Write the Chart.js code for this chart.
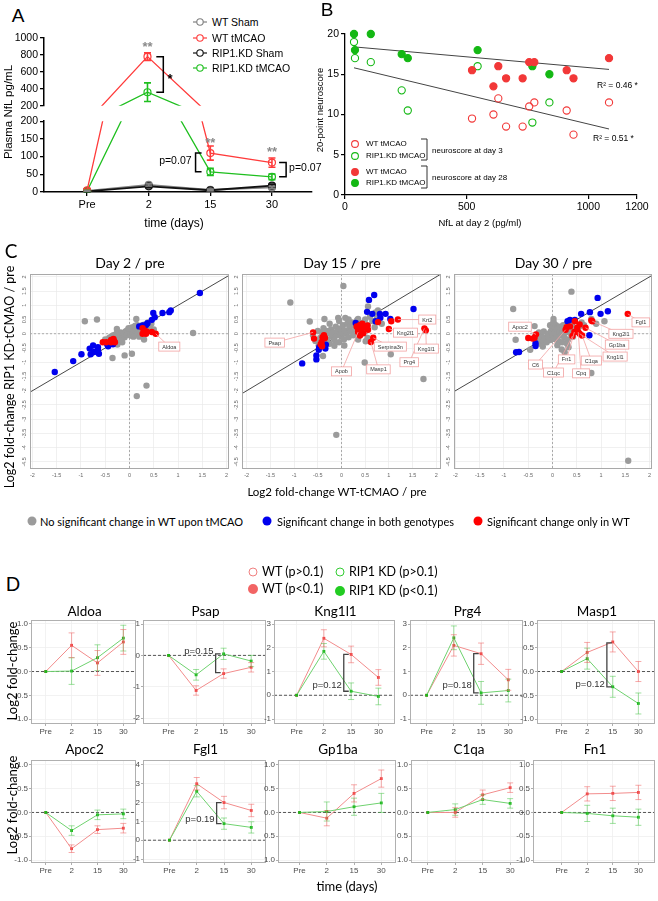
<!DOCTYPE html>
<html>
<head>
<meta charset="utf-8">
<title>NfL and plasma proteome</title>
<script src="https://cdn.jsdelivr.net/npm/chart.js"></script>
<style>
  html, body { margin: 0; padding: 0; background: #fff; }
  body { position: relative; width: 658px; height: 901px; overflow: hidden; }
  canvas { position: absolute; }
  .t { position: absolute; white-space: nowrap; line-height: 1; color: #000; }
  svg { position: absolute; left: 0; top: 0; }
</style>
</head>
<body>
<script>
const LS = '"Liberation Sans", Arial, sans-serif';
const LATO = 'Lato, "Open Sans", sans-serif';
Chart.defaults.font.family = LS;
Chart.defaults.color = '#000';

// ---------- panel A : plasma NfL ----------
const nflDays = ['Pre', '2', '15', '30'];
const nflWtSham = [3, 20, 6, 13];
const nflWtShamErr = [1, 3, 2, 3];
const nflWtTmcao = [5, 780, 110, 83];
const nflWtTmcaoErr = [3, 45, 20, 13];
const nflKdSham = [2, 16, 5, 18];
const nflKdShamErr = [1, 3, 2, 4];
const nflKdTmcao = [3, 360, 57, 43];
const nflKdTmcaoErr = [2, 110, 10, 8];
const nflTopTicks = [200, 400, 600, 800, 1000];
const nflLowTicks = [0, 50, 100, 150, 200];

// ---------- panel B : neuroscore vs NfL ----------
const bWtDay3 = [[522,9.5],[610,10],[630,12],[662,8.5],[730,8.5],[757,11],[778,11.5],[911,10.5],[939,7.5],[1085,11.5]];
const bKdDay3 = [[37,19],[41,17],[106,16.5],[233,13],[258,10.5],[545,16],[770,9],[840,11.5]];
const bWtDay28 = [[522,15.5],[610,13.5],[630,16],[662,14.5],[730,14.5],[757,16.5],[778,16.5],[911,15.5],[939,14.5],[1085,17]];
const bKdDay28 = [[37,20],[106,20],[41,18],[233,17.5],[258,17],[545,18],[770,16],[840,15]];
const bFitDay28 = [[37,18.4],[1085,15.6]];
const bFitDay3 = [[37,15.8],[1085,8.2]];
const bXTicks = [0, 500, 1000, 1200];
const bYTicks = [0, 5, 10, 15, 20];

// ---------- panel C : log2 fold-change scatter ----------
const cXTicks = [-2, -1.5, -1, -0.5, 0, 0.5, 1, 1.5, 2];
const cYTicks = [-4.5, -4, -3.5, -3, -2.5, -2, -1.5, -1, -0.5, 0, 0.5, 1, 1.5, 2];
const d2Grey = [[-0.5,-0.2],[-0.45,-0.3],[-0.42,-0.15],[-0.4,-0.35],[-0.38,-0.1],[-0.35,-0.2],[-0.33,-0.05],[-0.3,-0.15],[-0.28,-0.28],[-0.27,0.0],[-0.25,-0.1],[-0.22,-0.2],[-0.2,-0.05],[-0.18,0.05],[-0.17,-0.15],[-0.15,-0.08],[-0.12,0.02],[-0.1,-0.12],[-0.08,0.08],[-0.06,-0.03],[-0.05,0.12],[-0.03,0.04],[0.0,0.0],[0.0,0.15],[0.02,-0.06],[0.04,0.08],[0.05,0.22],[0.07,0.02],[0.08,0.14],[0.1,0.25],[0.12,0.06],[0.13,0.18],[0.15,-0.02],[0.16,0.3],[0.18,0.12],[0.2,0.2],[0.22,0.05],[0.24,0.28],[0.25,0.15],[0.28,0.08],[0.3,0.32],[0.32,0.2],[0.35,0.28],[0.38,0.4],[0.42,0.22],[0.45,0.35],[0.12,0.28],[-0.02,0.2],[0.08,-0.1],[0.2,-0.1],[0.3,-0.2],[-0.15,-0.3],[-0.25,-0.38],[0.45,0.12],[-0.92,0.44],[-0.67,0.5],[1.31,0.03],[0.35,-1.82],[0.15,-2.19],[-0.35,-0.85],[0.05,-0.7],[-0.1,-0.76],[0.14,0.52],[-0.26,0.17],[0.5,0.15]];
const d2Blue = [[1.45,1.43],[0.85,0.82],[0.82,0.76],[0.68,0.73],[0.49,0.73],[0.52,0.58],[0.46,0.49],[0.37,0.37],[0.27,0.29],[0.34,0.31],[0.2,0.26],[-1.54,-1.34],[-1.16,-0.96],[-0.99,-0.72],[-0.8,-0.72],[-0.82,-0.52],[-0.75,-0.41],[-0.65,-0.47],[-0.65,-0.58],[-0.63,-0.7],[-0.73,-0.64],[-0.46,-0.37],[-0.34,-0.37],[-0.44,-0.44]];
const d2Red = [[-0.55,-0.3],[-0.48,-0.3],[-0.38,-0.22],[-0.35,-0.28],[-0.32,-0.25],[-0.3,-0.3],[-0.33,-0.18],[-0.38,-0.3],[0.27,0.2],[0.31,0.12],[0.35,0.08],[0.27,0.0],[0.34,0.0],[0.46,0.06],[0.54,0.0]];
const d15Grey = [[-0.6,-0.05],[-0.55,-0.25],[-0.5,0.1],[-0.48,-0.4],[-0.45,-0.15],[-0.42,0.05],[-0.4,-0.3],[-0.38,0.2],[-0.35,-0.08],[-0.32,0.1],[-0.3,-0.2],[-0.28,0.02],[-0.25,-0.35],[-0.22,0.15],[-0.2,-0.1],[-0.18,0.05],[-0.15,-0.22],[-0.12,0.25],[-0.1,-0.05],[-0.08,0.1],[-0.05,-0.3],[-0.03,0.18],[0.0,-0.1],[0.0,0.05],[0.03,0.3],[0.05,-0.2],[0.07,0.12],[0.1,0.0],[0.12,0.35],[0.15,-0.12],[0.17,0.22],[0.2,0.08],[0.22,0.4],[0.25,-0.05],[0.27,0.28],[0.3,0.15],[0.33,0.48],[0.35,-0.2],[0.4,0.38],[0.45,0.05],[0.5,0.5],[0.55,0.3],[0.6,0.6],[0.65,0.45],[0.72,0.75],[0.75,0.55],[-0.05,0.45],[0.15,0.5],[-0.25,0.35],[-0.15,-0.42],[-1.08,1.1],[0.04,1.68],[-0.67,0.43],[-0.36,0.52],[-0.39,-0.78],[0.49,-1.01],[1.04,-0.72],[1.73,-1.59],[-0.11,-3.55],[0.56,0.96],[0.77,0.82],[-0.07,0.56],[0.08,0.56],[0.35,0.52],[0.7,0.23],[0.51,-0.26],[0.06,-0.41],[0.85,0.35],[0.55,-0.15]];
const d15Blue = [[0.58,1.19],[0.69,1.36],[0.54,0.77],[0.65,0.7],[0.81,0.7],[0.82,0.56],[0.93,0.7],[0.72,0.44],[1.03,0.52],[1.52,0.87],[0.3,0.38],[0.4,0.23],[-0.83,-1.04],[-0.53,-0.76],[-0.53,-0.9],[-0.47,-0.47],[-0.48,-0.56],[-0.34,-0.52],[-0.33,-0.38],[-0.42,-0.35]];
const d15Red = [[-0.6,0.05],[-0.58,-0.17],[-0.4,-0.12],[-0.37,-0.05],[-0.35,-0.15],[-0.42,-0.29],[-0.44,-0.37],[-0.41,-0.44],[0.32,0.26],[0.39,0.31],[0.44,0.35],[0.35,0.17],[0.42,0.17],[0.49,0.23],[0.55,0.29],[0.56,0.14],[0.35,0.06],[0.39,-0.06],[0.46,0.02],[0.62,-0.29],[0.67,-0.14],[0.77,0.41],[1.05,0.44],[1.19,0.5],[1.0,0.17],[1.75,0.19],[1.78,0.12]];
const d30Grey = [[-0.35,-0.05],[-0.3,-0.2],[-0.28,0.05],[-0.25,-0.35],[-0.22,-0.1],[-0.2,-0.25],[-0.18,0.08],[-0.15,-0.15],[-0.12,-0.3],[-0.1,0.0],[-0.08,-0.12],[-0.05,-0.22],[-0.03,0.1],[0.0,-0.05],[0.0,0.2],[0.02,-0.18],[0.05,0.05],[0.07,0.3],[0.08,-0.1],[0.1,0.15],[0.12,-0.25],[0.14,0.05],[0.15,0.25],[0.17,-0.05],[0.2,0.12],[0.22,0.3],[0.24,-0.12],[0.25,0.2],[0.28,0.05],[0.3,0.35],[0.32,-0.2],[0.35,0.15],[0.38,0.0],[0.4,0.3],[0.42,-0.1],[0.45,0.2],[0.5,0.1],[0.55,0.25],[0.6,0.4],[0.65,0.3],[-0.05,0.3],[0.1,-0.4],[0.2,-0.3],[-0.2,-0.45],[0.02,0.38],[0.3,-0.35],[0.39,1.48],[-0.81,0.87],[-0.37,0.27],[-0.76,-0.21],[-0.46,-0.56],[0.8,-1.38],[1.56,-4.46],[1.07,0.44],[0.8,0.52],[0.02,0.52],[0.02,0.41],[0.33,-0.47],[0.19,-0.55],[0.25,-0.65],[0.9,0.35]];
const d30Blue = [[0.93,1.26],[1.14,0.79],[0.99,0.7],[0.77,0.76],[0.59,0.7],[0.46,0.49],[0.36,0.49],[0.31,0.44],[0.76,-0.05],[-0.35,-0.33],[-0.35,-0.43],[-0.69,-0.64],[-0.75,-0.65]];
const d30Red = [[1.55,0.7],[0.82,0.44],[0.8,0.47],[0.68,0.21],[0.56,0.33],[0.46,0.44],[0.51,0.21],[0.45,0.06],[0.41,-0.08],[0.36,0.26],[0.29,0.23],[0.27,0.14],[0.56,0.0],[0.61,-0.06],[0.53,0.06],[-0.5,-0.15],[-0.41,-0.17],[-0.37,-0.14],[-0.34,-0.02]];
// gene tags: name, point x, point y, label x, label y
const d2Tags = [['Aldoa',0.54,0.0,0.82,-0.45]];
const d15Tags = [['Psap',-0.6,0.05,-1.41,-0.31],['Apob',0.35,0.06,0.0,-1.32],['Masp1',0.62,-0.29,0.78,-1.25],['Serpina3n',0.67,-0.14,1.03,-0.45],['Kng2l1',1.0,0.17,1.35,0.04],['Krt2',1.19,0.5,1.81,0.5],['Prg4',1.75,0.19,1.43,-1.0],['Kng1l1',1.78,0.12,1.79,-0.52]];
const d30Tags = [['Apoc2',-0.34,-0.02,-0.67,0.25],['C6',0.27,0.14,-0.35,-1.08],['C1qc',0.41,-0.08,0.02,-1.36],['Fn1',0.45,0.06,0.29,-0.9],['Cpq',0.53,0.06,0.59,-1.39],['C1qa',0.61,-0.06,0.8,-0.94],['Kng1l1',0.56,0.0,1.29,-0.8],['Gp1ba',0.68,0.21,1.33,-0.38],['Kng2l1',0.82,0.44,1.41,0.0],['Fgl1',1.55,0.7,1.82,0.4]];

// ---------- panel D : single proteins ----------
const geneNames = ['Aldoa', 'Psap', 'Kng1l1', 'Prg4', 'Masp1', 'Apoc2', 'Fgl1', 'Gp1ba', 'C1qa', 'Fn1'];
const dDays = ['Pre', '2', '15', '30'];
const wtMean = [[0,0.55,0.18,0.62],[0,-1.12,-0.58,-0.38],[0,2.4,1.72,0.75],[0,2.1,1.75,0.65],[0,0.4,0.62,0.0],
                [0,-0.76,-0.36,-0.33],[0,3.0,2.0,1.58],[0,-0.12,0.4,0.71],[0,0.0,0.37,0.52],[0,0.39,0.4,0.42]];
const wtErr = [[0,0.26,0.26,0.26],[0,0.15,0.15,0.15],[0,0.36,0.35,0.33],[0,0.45,0.45,0.44],[0,0.21,0.21,0.21],
               [0,0.08,0.08,0.1],[0,0.33,0.33,0.33],[0,0.16,0.18,0.18],[0,0.1,0.1,0.1],[0,0.15,0.15,0.15]];
const kdMean = [[0,0.01,0.29,0.7],[0,-0.62,0.05,-0.18],[0,1.85,0.17,-0.05],[0,2.42,0.1,0.2],[0,0.27,-0.32,-0.67],
                [0,-0.38,-0.05,-0.03],[0,2.6,0.88,0.68],[0,0.02,0.12,0.2],[0,0.06,0.27,0.19],[0,-0.02,-0.07,-0.1]];
const kdErr = [[0,0.28,0.27,0.27],[0,0.17,0.18,0.18],[0,0.33,0.35,0.35],[0,0.5,0.48,0.48],[0,0.22,0.22,0.22],
               [0,0.1,0.1,0.1],[0,0.3,0.3,0.3],[0,0.2,0.18,0.2],[0,0.12,0.1,0.1],[0,0.17,0.16,0.17]];
const halfTicks = [-1, -0.5, 0, 0.5, 1];
const dYTicks = [halfTicks, [-2,-1,0,1], [-1,0,1,2,3], [-1,0,1,2,3], halfTicks,
                 halfTicks, [-1,0,1,2,3,4], halfTicks, halfTicks, halfTicks];
// p-value brackets: gene index, x, top, bottom, label, label y
const dBrackets = [[1,1.71,0.05,-0.55,'p=0.15',0.14],[2,1.73,1.72,0.17,'p=0.12',0.42],[3,1.73,1.75,0.1,'p=0.18',0.42],
                   [4,1.77,0.6,-0.32,'p=0.12',-0.27],[6,1.73,2.0,0.88,'p=0.19',1.1]];

// ---------- layout ----------
const dAreas = [[31,619,138,724],[143,619,268,724],[274,619,397,724],[410,619,525,724],[537,619,657,724],
                [31,759,138,863],[143,759,268,863],[278,759,398,863],[411,759,527,863],[533,759,657,863]];
const dXRange = [[-0.57,3.49],[-0.93,3.54],[-0.83,3.61],[-0.61,3.54],[-0.96,3.65],
                 [-0.57,3.49],[-0.97,3.54],[-0.79,3.54],[-0.61,3.54],[-1.12,3.65]];
const dYRange = [[-1.1,1.08],[-2.19,1.13],[-1.21,3.17],[-1.21,3.17],[-1.1,1.08],
                 [-1.06,1.1],[-1.21,4.26],[-1.06,1.1],[-1.06,1.1],[-1.06,1.1]];
const dYDec = [1,0,0,0,1,1,0,1,1,1];
const dYNoMinus = [false,false,false,false,false,false,false,true,true,false];

// ---------- helpers ----------
const pts = a => a.map(([x, y]) => ({x, y}));
const seq = a => a.map((y, i) => ({x: i, y}));
const fixTicks = list => s => { s.ticks = list.map(v => ({value: v})); };
const plain = v => String(v);

function txt(s, x, y, size, o = {}) {
  const d = document.createElement('div');
  d.className = 't';
  d.textContent = s;
  d.style.left = x + 'px';
  d.style.top = y + 'px';
  d.style.fontSize = size + 'px';
  d.style.fontFamily = o.font || LS;
  if (o.color) d.style.color = o.color;
  if (o.weight) d.style.fontWeight = o.weight;
  const ax = o.align === 'left' ? '0' : o.align === 'right' ? '-100%' : '-50%';
  d.style.transform = 'translate(' + ax + ',-50%)' + (o.rot ? ' rotate(' + o.rot + 'deg)' : '');
  document.body.appendChild(d);
}

// area = chart area on the page [l,t,r,b]; pad = room for axes [left,top,right,bottom]
function mk(area, pad, cfg) {
  const [l, t, r, b] = area, [pl, pt, pr, pb] = pad;
  const c = document.createElement('canvas');
  const w = r - l + pl + pr, h = b - t + pt + pb;
  c.width = w; c.height = h;
  c.style.left = (l - pl) + 'px'; c.style.top = (t - pt) + 'px';
  c.style.width = w + 'px'; c.style.height = h + 'px';
  document.body.appendChild(c);
  const o = cfg.options;
  o.responsive = false; o.animation = false; o.devicePixelRatio = 1;
  o.layout = {padding: {left: 0, top: pt, right: pr, bottom: 0}};
  o.plugins = Object.assign({legend: {display: false}, tooltip: {enabled: false}}, o.plugins || {});
  o.scales.x.afterFit = s => { s.height = pb; s.paddingLeft = 0; s.paddingRight = 0; };
  o.scales.y.afterFit = s => { s.width = pl; s.paddingTop = 0; s.paddingBottom = 0; };
  return new Chart(c, cfg);
}

const errBars = {
  id: 'errBars',
  afterDatasetsDraw(chart) {
    const ctx = chart.ctx, a = chart.chartArea, xs = chart.scales.x, ys = chart.scales.y;
    ctx.save();
    ctx.beginPath(); ctx.rect(a.left, a.top - 2, a.right - a.left, a.bottom - a.top + 4); ctx.clip();
    chart.data.datasets.forEach(ds => {
      if (!ds.errors) return;
      ctx.strokeStyle = ds.errColor; ctx.lineWidth = ds.errWidth;
      ds.data.forEach((p, j) => {
        const e = ds.errors[j];
        if (!e) return;
        const x = xs.getPixelForValue(p.x), y1 = ys.getPixelForValue(p.y - e), y2 = ys.getPixelForValue(p.y + e);
        const cw = ds.capW;
        ctx.beginPath();
        ctx.moveTo(x, y1); ctx.lineTo(x, y2);
        ctx.moveTo(x - cw, y1); ctx.lineTo(x + cw, y1);
        ctx.moveTo(x - cw, y2); ctx.lineTo(x + cw, y2);
        ctx.stroke();
      });
    });
    ctx.restore();
  }
};

function notes(items) {
  return {
    id: 'notes',
    afterDatasetsDraw(chart) {
      const ctx = chart.ctx, xs = chart.scales.x, ys = chart.scales.y;
      ctx.save();
      items.forEach(it => {
        const X = xs.getPixelForValue(it.x) + (it.dx || 0);
        if (it.k === 'text') {
          ctx.font = it.font; ctx.fillStyle = it.color || '#000';
          ctx.textAlign = it.align || 'center'; ctx.textBaseline = 'middle';
          ctx.fillText(it.s, X, ys.getPixelForValue(it.y));
        } else {
          const y1 = ys.getPixelForValue(it.y1), y2 = ys.getPixelForValue(it.y2);
          ctx.strokeStyle = it.color || '#000'; ctx.lineWidth = it.lw || 1.3;
          ctx.beginPath();
          ctx.moveTo(X + it.w, y1); ctx.lineTo(X, y1); ctx.lineTo(X, y2); ctx.lineTo(X + it.w, y2);
          ctx.stroke();
        }
      });
      ctx.restore();
    }
  };
}

function frame(color) {
  return {
    id: 'frame',
    afterDraw(chart) {
      const a = chart.chartArea, ctx = chart.ctx;
      ctx.save(); ctx.strokeStyle = color; ctx.lineWidth = 1;
      ctx.strokeRect(Math.round(a.left) + 0.5, Math.round(a.top) + 0.5, Math.round(a.right - a.left) - 1, Math.round(a.bottom - a.top) - 1);
      ctx.restore();
    }
  };
}

function guides(list) {
  return {
    id: 'guides',
    beforeDatasetsDraw(chart) {
      const a = chart.chartArea, ctx = chart.ctx, xs = chart.scales.x, ys = chart.scales.y;
      ctx.save();
      list.forEach(g => {
        ctx.strokeStyle = g.color; ctx.lineWidth = g.lw; ctx.setLineDash(g.dash);
        ctx.beginPath();
        if (g.axis === 'y') { const y = ys.getPixelForValue(g.v); ctx.moveTo(a.left, y); ctx.lineTo(a.right, y); }
        else { const x = xs.getPixelForValue(g.v); ctx.moveTo(x, a.top); ctx.lineTo(x, a.bottom); }
        ctx.stroke();
      });
      ctx.restore();
    }
  };
}

function tags(list) {
  return {
    id: 'tags',
    afterDatasetsDraw(chart) {
      const ctx = chart.ctx, xs = chart.scales.x, ys = chart.scales.y;
      ctx.save();
      ctx.font = '5.5px ' + LS;
      list.forEach(([s, px, py, lx, ly]) => {
        const x0 = xs.getPixelForValue(px), y0 = ys.getPixelForValue(py);
        const x1 = xs.getPixelForValue(lx), y1 = ys.getPixelForValue(ly);
        ctx.strokeStyle = '#f2a2a2'; ctx.lineWidth = 0.8;
        ctx.beginPath(); ctx.moveTo(x0, y0); ctx.lineTo(x1, y1); ctx.stroke();
        const w = ctx.measureText(s).width + 7, h = 9;
        ctx.fillStyle = '#fff'; ctx.fillRect(x1 - w / 2, y1 - h / 2, w, h);
        ctx.strokeRect(x1 - w / 2, y1 - h / 2, w, h);
        ctx.fillStyle = '#333'; ctx.textAlign = 'center'; ctx.textBaseline = 'middle';
        ctx.fillText(s, x1, y1 + 0.5);
      });
      ctx.restore();
    }
  };
}

const rotY = {
  id: 'rotY',
  afterDraw(chart) {
    const ctx = chart.ctx, s = chart.scales.y, left = chart.chartArea.left;
    ctx.save();
    ctx.font = '5.5px ' + LS; ctx.fillStyle = '#666';
    ctx.textAlign = 'center'; ctx.textBaseline = 'bottom';
    s.ticks.forEach(t => {
      ctx.save();
      ctx.translate(left - 3, s.getPixelForValue(t.value));
      ctx.rotate(-Math.PI / 2);
      ctx.fillText(String(t.value), 0, 0);
      ctx.restore();
    });
    ctx.restore();
  }
};

// ---------- panel A ----------
const RED_A = '#ff3b3b', GREEN_A = '#1fbf1f';
function nflSets() {
  const set = (vals, errs, color, fill, bw) => ({
    data: seq(vals), errors: errs, errColor: color, errWidth: 1.6, capW: 3.5,
    borderColor: color, borderWidth: bw, backgroundColor: fill,
    pointRadius: 3.5, pointBorderWidth: 1.2, pointBorderColor: color, pointBackgroundColor: fill
  });
  return [
    set(nflWtTmcao, nflWtTmcaoErr, RED_A, 'rgba(255,255,255,0)', 1.3),
    set(nflKdTmcao, nflKdTmcaoErr, GREEN_A, 'rgba(255,255,255,0)', 1.3),
    set(nflKdSham, nflKdShamErr, '#111', '#666', 1.8),
    set(nflWtSham, nflWtShamErr, '#808080', '#a6a6a6', 1.8)
  ];
}
function nflAxes(yMin, yMax, yTicks, showX) {
  return {
    x: {type: 'linear', min: -0.7, max: 3.65, afterBuildTicks: fixTicks([0, 1, 2, 3]),
        ticks: {display: showX, callback: v => nflDays[v], font: {size: 11}, color: '#000', padding: 2, maxRotation: 0},
        grid: {display: showX, drawOnChartArea: false, tickLength: 4, color: '#000', lineWidth: 1.3},
        border: {display: showX, color: '#000', width: 1.5}},
    y: {min: yMin, max: yMax, afterBuildTicks: fixTicks(yTicks),
        ticks: {callback: plain, font: {size: 10.5}, color: '#000', padding: 2},
        grid: {drawOnChartArea: false, tickLength: 4, color: '#000', lineWidth: 1.3},
        border: {color: '#000', width: 1.5}}
  };
}
const starFont = 'bold 13px ' + LS, pFont = '10.5px ' + LS;
mk([44, 38, 312, 111], [40, 8, 2, 0], {
  type: 'line', data: {datasets: nflSets()},
  options: {scales: nflAxes(200, 1000, nflTopTicks, false)},
  plugins: [errBars, notes([
    {k: 'text', x: 1, y: 885, s: '**', font: starFont, color: '#8a8a8a'},
    {k: 'brk', x: 1.26, y1: nflWtTmcao[1], y2: nflKdTmcao[1], w: -7, lw: 1.5},
    {k: 'text', x: 1.37, y: 512, s: '*', font: starFont}
  ])]
});
mk([44, 118, 312, 192], [40, 2, 34, 22], {
  type: 'line', data: {datasets: nflSets()},
  options: {scales: nflAxes(0, 200, nflLowTicks, true)},
  plugins: [errBars, notes([
    {k: 'text', x: 2, y: 137, s: '**', font: starFont, color: '#8a8a8a'},
    {k: 'text', x: 3, y: 113, s: '**', font: starFont, color: '#8a8a8a'},
    {k: 'brk', x: 1.76, y1: nflWtTmcao[2], y2: nflKdTmcao[2], w: 6, lw: 1.5},
    {k: 'text', x: 1.76, dx: -4, y: 86, s: 'p=0.07', font: pFont, align: 'right'},
    {k: 'brk', x: 3.23, y1: nflWtTmcao[3], y2: nflKdTmcao[3], w: -7, lw: 1.5},
    {k: 'text', x: 3.23, dx: 3, y: 68, s: 'p=0.07', font: pFont, align: 'left'}
  ])]
});

// ---------- panel B ----------
const scatterSet = (a, color, filled) => ({
  data: pts(a), clip: false, pointRadius: 3.6, pointBorderWidth: 1.1,
  pointBorderColor: color, pointBackgroundColor: filled ? color : 'rgba(255,255,255,0)'
});
const fitSet = a => ({data: pts(a), showLine: true, pointRadius: 0, borderColor: '#444', borderWidth: 1});
mk([345, 34, 637, 195], [40, 6, 16, 22], {
  type: 'scatter',
  data: {datasets: [
    scatterSet(bWtDay28, '#f23838', true), scatterSet(bKdDay28, '#14b814', true),
    scatterSet(bWtDay3, '#f23838', false), scatterSet(bKdDay3, '#14b814', false),
    fitSet(bFitDay28), fitSet(bFitDay3)
  ]},
  options: {scales: {
    x: {min: 0, max: 1200, afterBuildTicks: fixTicks(bXTicks),
        ticks: {callback: plain, font: {size: 10.5}, color: '#000', padding: 2, maxRotation: 0},
        grid: {drawOnChartArea: false, tickLength: 4, color: '#000', lineWidth: 1.2},
        border: {color: '#000', width: 1.3}},
    y: {min: 0, max: 20, afterBuildTicks: fixTicks(bYTicks),
        ticks: {callback: plain, font: {size: 10.5}, color: '#000', padding: 2},
        grid: {drawOnChartArea: false, tickLength: 4, color: '#000', lineWidth: 1.2},
        border: {color: '#000', width: 1.3}}
  }}
});

// ---------- panel C ----------
const cAreas = [[30, 273, 230, 469], [242, 273, 442, 469], [454, 273, 653, 469]];
const cXRange = [[-2.05, 2.05], [-2.1, 2.1], [-2.03, 2.05]];
const cGrey = [d2Grey, d15Grey, d30Grey], cBlue = [d2Blue, d15Blue, d30Blue], cRed = [d2Red, d15Red, d30Red];
const cTags = [d2Tags, d15Tags, d30Tags];
const cTitles = ['Day 2 / pre', 'Day 15 / pre', 'Day 30 / pre'];
const dot = (a, color) => ({data: pts(a), clip: false, pointRadius: 3.2, pointBorderWidth: 0, pointBackgroundColor: color});
cAreas.forEach((area, i) => {
  mk(area, [14, 3, 3, 12], {
    type: 'scatter',
    data: {datasets: [
      dot(cRed[i], '#ff0000'), dot(cBlue[i], '#0000ee'), dot(cGrey[i], '#9b9b9b'),
      {data: pts([[-2.2, -2.2], [2.2, 2.2]]), showLine: true, pointRadius: 0, borderColor: '#333', borderWidth: 0.9}
    ]},
    options: {scales: {
      x: {min: cXRange[i][0], max: cXRange[i][1], afterBuildTicks: fixTicks(cXTicks),
          ticks: {callback: plain, font: {size: 5.5}, color: '#666', padding: 3, maxRotation: 0},
          grid: {color: '#e9e9e9', lineWidth: 0.7, drawTicks: false}, border: {display: false}},
      y: {min: -4.75, max: 2.1, afterBuildTicks: fixTicks(cYTicks),
          ticks: {display: false},
          grid: {color: '#e9e9e9', lineWidth: 0.7, drawTicks: false}, border: {display: false}}
    }},
    plugins: [guides([{axis: 'x', v: 0, color: '#999', lw: 0.8, dash: [2, 2]}, {axis: 'y', v: 0, color: '#999', lw: 0.8, dash: [2, 2]}]),
              tags(cTags[i]), frame('#a9a9a9'), rotY]
  });
  txt(cTitles[i], (area[0] + area[2]) / 2, 263, 14, {font: LATO});
});

// ---------- panel D ----------
geneNames.forEach((g, i) => {
  const area = dAreas[i];
  const items = [];
  dBrackets.filter(b => b[0] === i).forEach(([, x, y1, y2, s, ly]) => {
    items.push({k: 'brk', x, y1, y2, w: 5, color: '#444', lw: 1.3});
    items.push({k: 'text', x, dx: -2, y: ly, s, font: '9.5px ' + LS, color: '#333', align: 'right'});
  });
  mk(area, [22, 3, 2, 13], {
    type: 'line',
    data: {datasets: [
      {data: seq(kdMean[i]), errors: kdErr[i], errColor: 'rgba(80,200,80,0.55)', errWidth: 1, capW: 3,
       borderColor: '#6fd26f', borderWidth: 1, pointStyle: 'rect', pointRadius: 2,
       pointBorderWidth: 0, pointBackgroundColor: '#1db81d'},
      {data: seq(wtMean[i]), errors: wtErr[i], errColor: 'rgba(240,100,100,0.55)', errWidth: 1, capW: 3,
       borderColor: '#f28c8c', borderWidth: 1, pointStyle: 'rect', pointRadius: 2,
       pointBorderWidth: 0, pointBackgroundColor: '#f04848'}
    ]},
    options: {scales: {
      x: {type: 'linear', min: dXRange[i][0], max: dXRange[i][1], afterBuildTicks: fixTicks([0, 1, 2, 3]),
          ticks: {callback: v => dDays[v], font: {size: 8}, color: '#4d4d4d', padding: 1, maxRotation: 0},
          grid: {color: '#efefef', lineWidth: 0.8, tickLength: 2, tickColor: '#999'}, border: {display: false}},
      y: {min: dYRange[i][0], max: dYRange[i][1], afterBuildTicks: fixTicks(dYTicks[i]),
          ticks: {callback: v => (dYNoMinus[i] ? Math.abs(v) : v).toFixed(dYDec[i]), font: {size: 8}, color: '#4d4d4d', padding: 1},
          grid: {color: '#efefef', lineWidth: 0.8, tickLength: 2, tickColor: '#999'}, border: {display: false}}
    }},
    plugins: [guides([{axis: 'y', v: 0, color: '#555', lw: 1, dash: [3, 2]}]), errBars, notes(items), frame('#b0b0b0')]
  });
  txt(g, (area[0] + area[2]) / 2, i < 5 ? 612 : 750, 13.5, {font: LATO});
});

// ---------- texts ----------
txt('A', 18, 15, 19);
txt('B', 327, 9, 19);
txt('C', 11, 250, 19, {font: LATO});
txt('D', 13, 583, 19, {font: LATO});
txt('Plasma  NfL pg/mL', 9, 112, 11.5, {rot: -90});
txt('time (days)', 174, 223, 12);
[['WT Sham', 22], ['WT tMCAO', 38], ['RIP1.KD Sham', 53], ['RIP1.KD tMCAO', 68]].forEach(([s, y]) => txt(s, 212, y, 10.5, {align: 'left'}));
txt('20-point neuroscore', 320, 110, 9.5, {rot: -90});
txt('NfL at day 2 (pg/ml)', 480, 223, 9.5);
txt('R\u00b2 = 0.46 *', 597, 85, 8.5, {align: 'left'});
txt('R\u00b2 = 0.51 *', 593, 138, 8.5, {align: 'left'});
[['WT tMCAO', 144], ['RIP1.KD tMCAO', 156], ['WT tMCAO', 172], ['RIP1.KD tMCAO', 183]].forEach(([s, y]) => txt(s, 366, y, 8, {align: 'left'}));
txt('neuroscore at day 3', 432, 151, 8, {align: 'left'});
txt('neuroscore at day 28', 432, 178, 8, {align: 'left'});
txt('Log2 fold-change RIP1 KD-tCMAO / pre', 10, 377, 12.5, {font: LATO, rot: -90});
txt('Log2 fold-change WT-tCMAO / pre', 337, 492, 11.5, {font: LATO});
txt('No significant change in WT upon tMCAO', 40, 521, 11, {font: LATO, align: 'left'});
txt('Significant change in both genotypes', 277, 521, 11, {font: LATO, align: 'left'});
txt('Significant change only in WT', 487, 521, 11, {font: LATO, align: 'left'});
txt('WT (p>0.1)', 262, 572, 12.5, {font: LATO, align: 'left'});
txt('RIP1 KD (p>0.1)', 349, 572, 12.5, {font: LATO, align: 'left'});
txt('WT (p<0.1)', 262, 589, 12.5, {font: LATO, align: 'left'});
txt('RIP1 KD (p<0.1)', 349, 591, 12.5, {font: LATO, align: 'left'});
txt('Log2 fold-change', 12, 671, 13, {font: LATO, rot: -90});
txt('Log2 fold-change', 12, 805, 13, {font: LATO, rot: -90});
txt('time (days)', 347, 886, 13, {font: LATO});

// legend symbols
let sv = '';
[['#808080', 22], [RED_A, 38], ['#111', 53], [GREEN_A, 68]].forEach(([c, y]) => {
  sv += '<line x1="193" y1="' + y + '" x2="207" y2="' + y + '" stroke="' + c + '" stroke-width="1.2"/>' +
        '<circle cx="200" cy="' + y + '" r="3.2" fill="#fff" stroke="' + c + '" stroke-width="1.1"/>';
});
[['#f23838', 144, false], ['#14b814', 156, false], ['#f23838', 172, true], ['#14b814', 183, true]].forEach(([c, y, f]) => {
  sv += '<circle cx="355" cy="' + y + '" r="3.4" fill="' + (f ? c : '#fff') + '" stroke="' + c + '" stroke-width="1.1"/>';
});
sv += '<polyline points="421,139 427,139 427,160 421,160" fill="none" stroke="#333" stroke-width="1"/>';
sv += '<polyline points="421,166 427,166 427,188 421,188" fill="none" stroke="#333" stroke-width="1"/>';
sv += '<circle cx="32" cy="521" r="4.5" fill="#9b9b9b"/><circle cx="267" cy="521" r="4.5" fill="#0000ee"/><circle cx="478" cy="521" r="4.5" fill="#ff0000"/>';
sv += '<circle cx="253" cy="572" r="4" fill="#fff" stroke="#f08080" stroke-width="1"/>';
sv += '<circle cx="340" cy="572" r="4" fill="#fff" stroke="#33cc33" stroke-width="1"/>';
sv += '<circle cx="253" cy="589" r="5" fill="#f26464"/><circle cx="340" cy="591" r="5" fill="#22cc22"/>';
const svgEl = document.createElementNS('http://www.w3.org/2000/svg', 'svg');
svgEl.setAttribute('width', '658'); svgEl.setAttribute('height', '901');
svgEl.innerHTML = sv;
document.body.appendChild(svgEl);
</script>
</body>
</html>
